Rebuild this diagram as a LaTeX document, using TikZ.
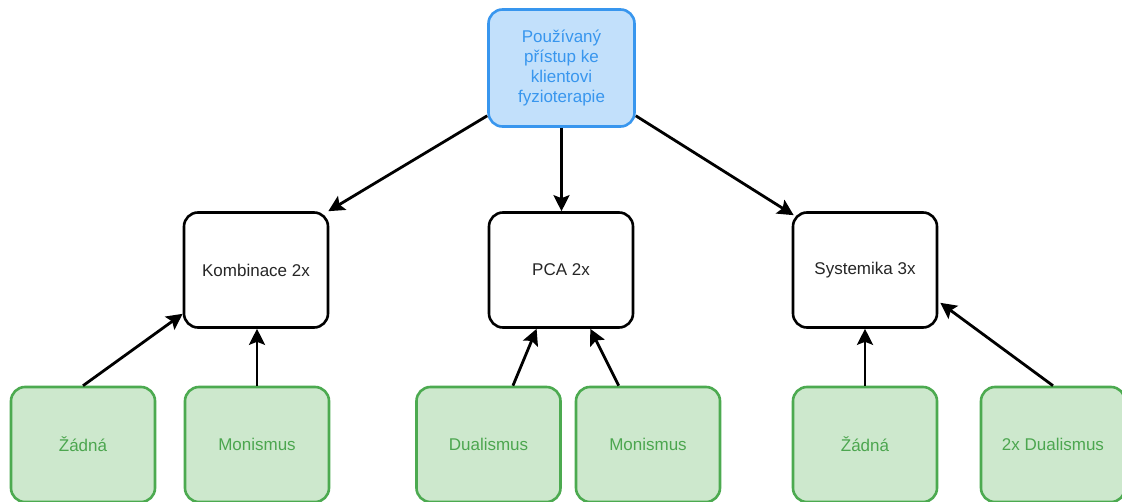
\documentclass[tikz,border=0pt]{standalone}
\usepackage{fontspec}
\setmainfont{Liberation Sans}
\usetikzlibrary{arrows.meta,calc}
\definecolor{topfill}{RGB}{194,224,251}
\definecolor{topline}{RGB}{56,150,238}
\definecolor{leaffill}{RGB}{205,232,205}
\definecolor{leafline}{RGB}{76,170,80}
\definecolor{leaftext}{RGB}{76,166,79}
\begin{document}
\begin{tikzpicture}[x=1pt,y=-1pt,
  box/.style={draw, rounded corners=14pt, minimum width=144pt, minimum height=115pt,
    line width=2.6pt, align=center, inner sep=0pt,
    font=\fontsize{17}{20.3}\selectfont},
  topbox/.style={box, fill=topfill, draw=topline, text=topline,
    minimum width=146pt, minimum height=117pt},
  midbox/.style={box, fill=white, draw=black, text=black!85},
  leafbox/.style={box, fill=leaffill, draw=leafline, text=leaftext},
  link/.style={line width=2.8pt, draw=black,
    -{Stealth[length=16pt,width=16pt,inset=3pt]}}]
\path[use as bounding box, clip] (0,0) rectangle (1122,502);
\fill[white] (0,0) rectangle (1122,502);

% root
\node[topbox] (top) at (561.5,68) {Používaný\\přístup ke\\klientovi\\fyzioterapie};

% middle level
\node[midbox] (komb) at (256,270) {Kombinace 2x};
\node[midbox] (pca)  at (561,270) {PCA 2x};
\node[midbox] (sys)  at (865,270) {Systemika 3x};

% leaves
\node[leafbox] (zad1)  at (83,444.5)   {Žádná};
\node[leafbox] (mon1)  at (257,444.5)  {Monismus};
\node[leafbox] (dual)  at (488.5,444.5){Dualismus};
\node[leafbox] (mon2)  at (648,444.5)  {Monismus};
\node[leafbox] (zad2)  at (865,444.5)  {Žádná};
\node[leafbox] (dual2) at (1053,444.5) {2x Dualismus};

% root to middle
\draw[link] ([yshift=12pt]top.south west) -- ([xshift=-1pt]komb.north east);
\draw[link] (top.south) -- (top.south |- pca.north);
\draw[link] ([yshift=12pt]top.south east) -- ([xshift=2pt,yshift=-4pt]sys.north west);

% leaves to middle
\draw[link] (zad1.north) -- ([yshift=15pt]komb.south west);
\draw[link] (mon1.north) -- (mon1.north |- komb.south);
\draw[link] (dual) -- (pca);
\draw[link] (mon2) -- (pca);
\draw[link] (zad2.north) -- (zad2.north |- sys.south);
\draw[link] (dual2.north) -- ([xshift=2pt,yshift=26pt]sys.south east);
\end{tikzpicture}
\end{document}
